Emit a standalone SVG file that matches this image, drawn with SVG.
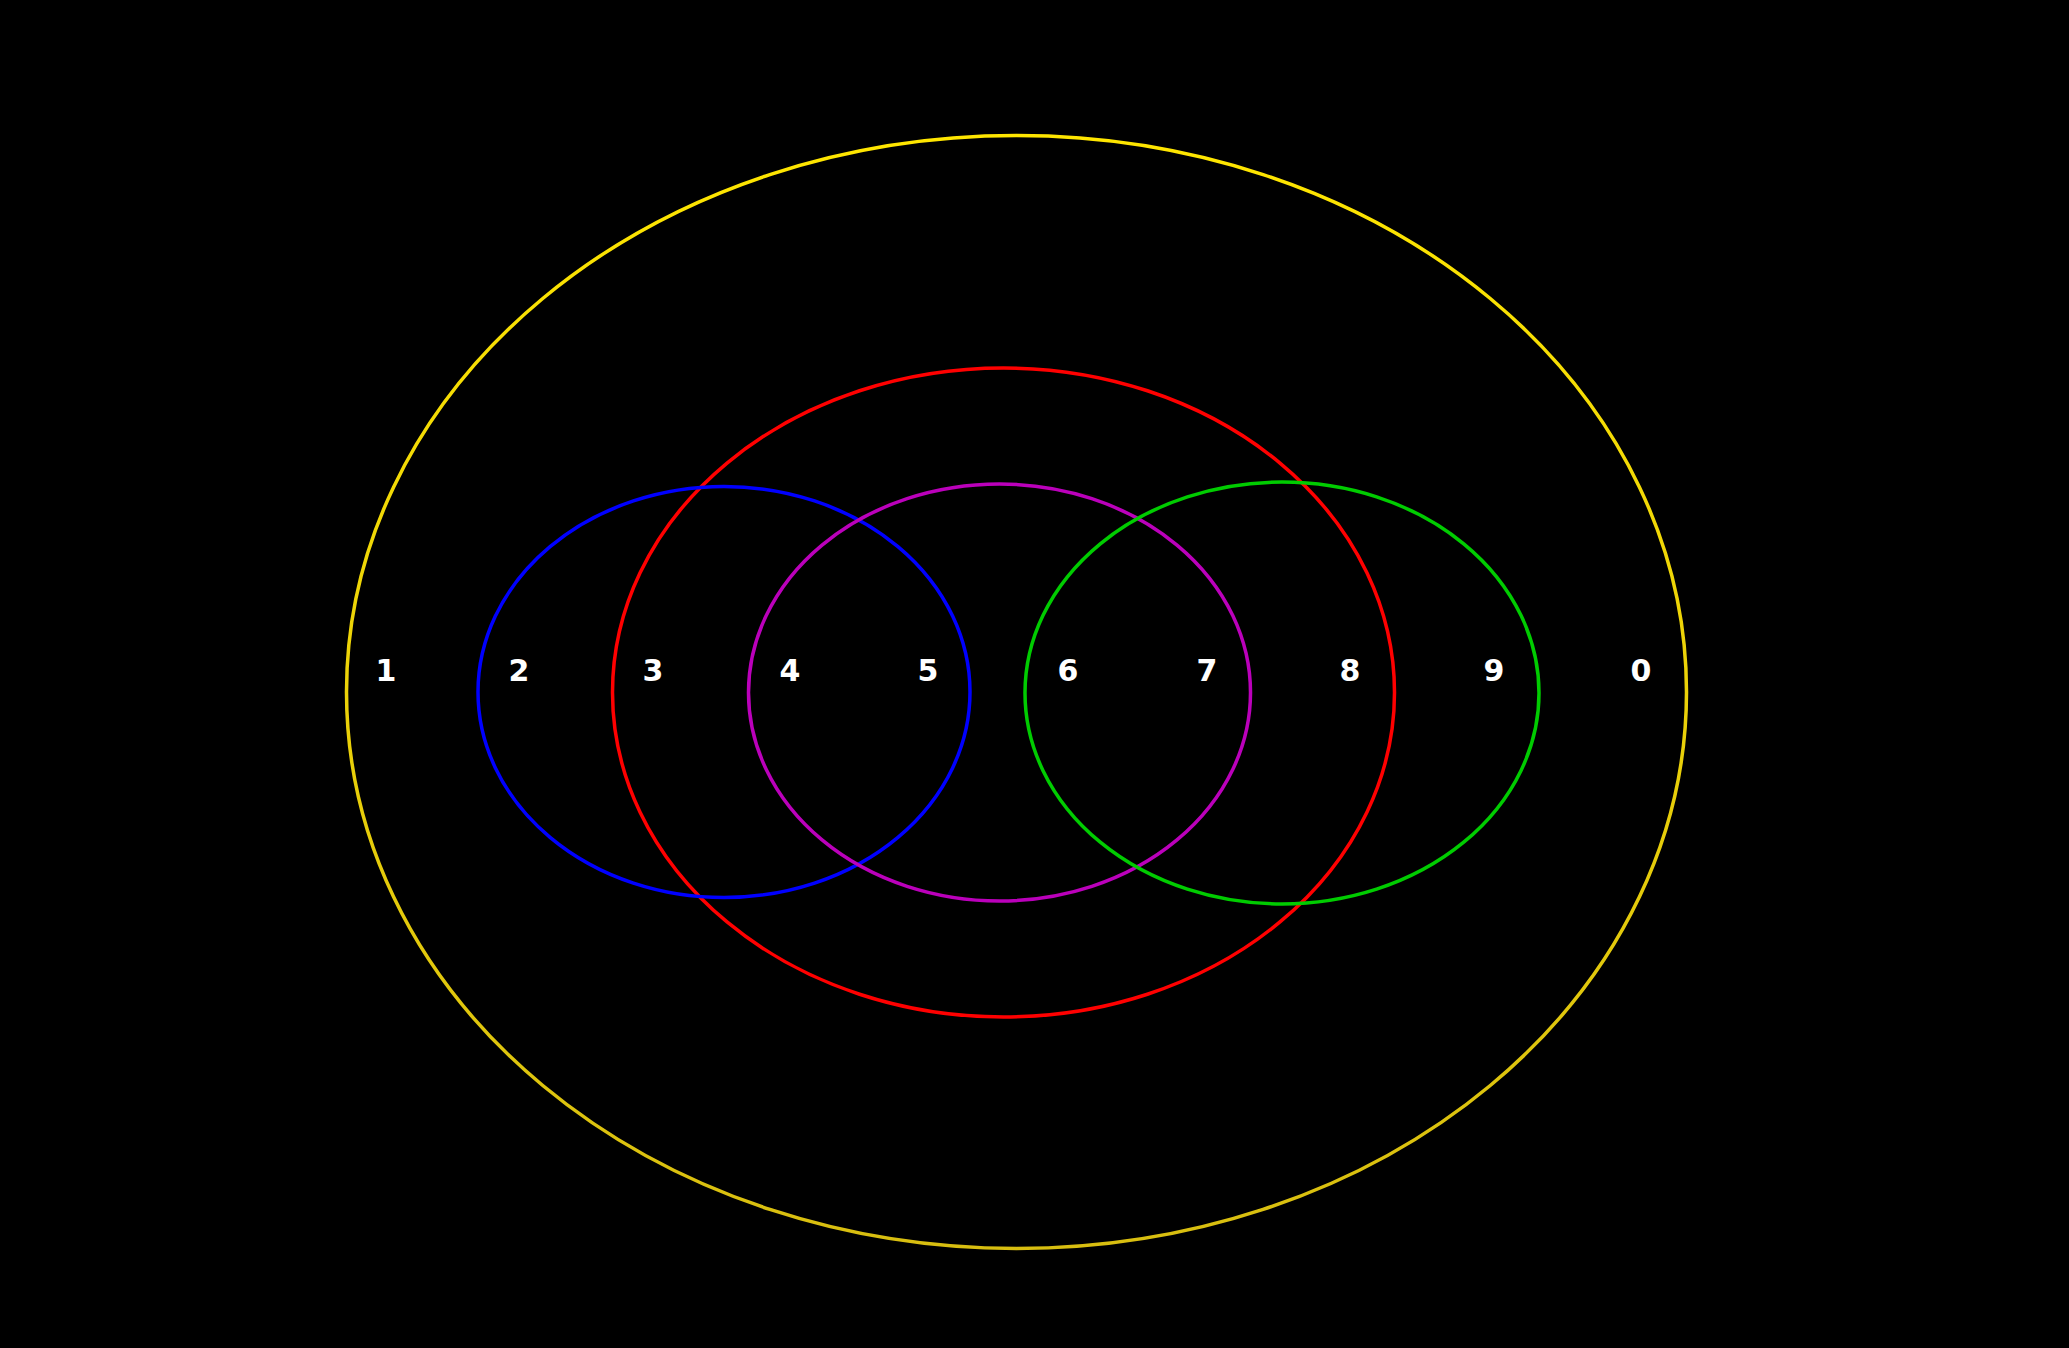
<svg xmlns="http://www.w3.org/2000/svg" width="2069" height="1348" viewBox="0 0 2069 1348">
<defs>
<linearGradient id="yg" x1="0" y1="0" x2="0" y2="1">
<stop offset="0" stop-color="#FFE600"/>
<stop offset="1" stop-color="#D8BE10"/>
</linearGradient>
</defs>
<style>
.s{fill:none;stroke-width:3.5}
.t{font-family:"DejaVu Sans",sans-serif;font-weight:bold;font-size:30px;fill:#fff;text-anchor:middle}
</style>
<rect width="2069" height="1348" fill="#000"/>
<g id="yellow"><ellipse class="s" cx="1016.5" cy="692" rx="670" ry="556.5" stroke="url(#yg)"/></g>
<g id="red"><ellipse class="s" cx="1003.5" cy="692.5" rx="391" ry="324.5" stroke="#FF0000"/></g>
<g id="blue"><ellipse class="s" cx="724" cy="692" rx="246" ry="205.5" stroke="#0000FF"/></g>
<g id="purple"><ellipse class="s" cx="999.5" cy="692.5" rx="251" ry="208.5" stroke="#BB00BB"/></g>
<g id="green"><ellipse class="s" cx="1282" cy="693" rx="257" ry="211" stroke="#00CC00"/></g>
<g id="labels">
<text class="t" x="386" y="681">1</text>
<text class="t" x="519" y="681">2</text>
<text class="t" x="653" y="681">3</text>
<text class="t" x="790" y="681">4</text>
<text class="t" x="928" y="681">5</text>
<text class="t" x="1068" y="681">6</text>
<text class="t" x="1207" y="681">7</text>
<text class="t" x="1350" y="681">8</text>
<text class="t" x="1494" y="681">9</text>
<text class="t" x="1641" y="681">0</text>
</g>
<g id="connectors"/>
</svg>
